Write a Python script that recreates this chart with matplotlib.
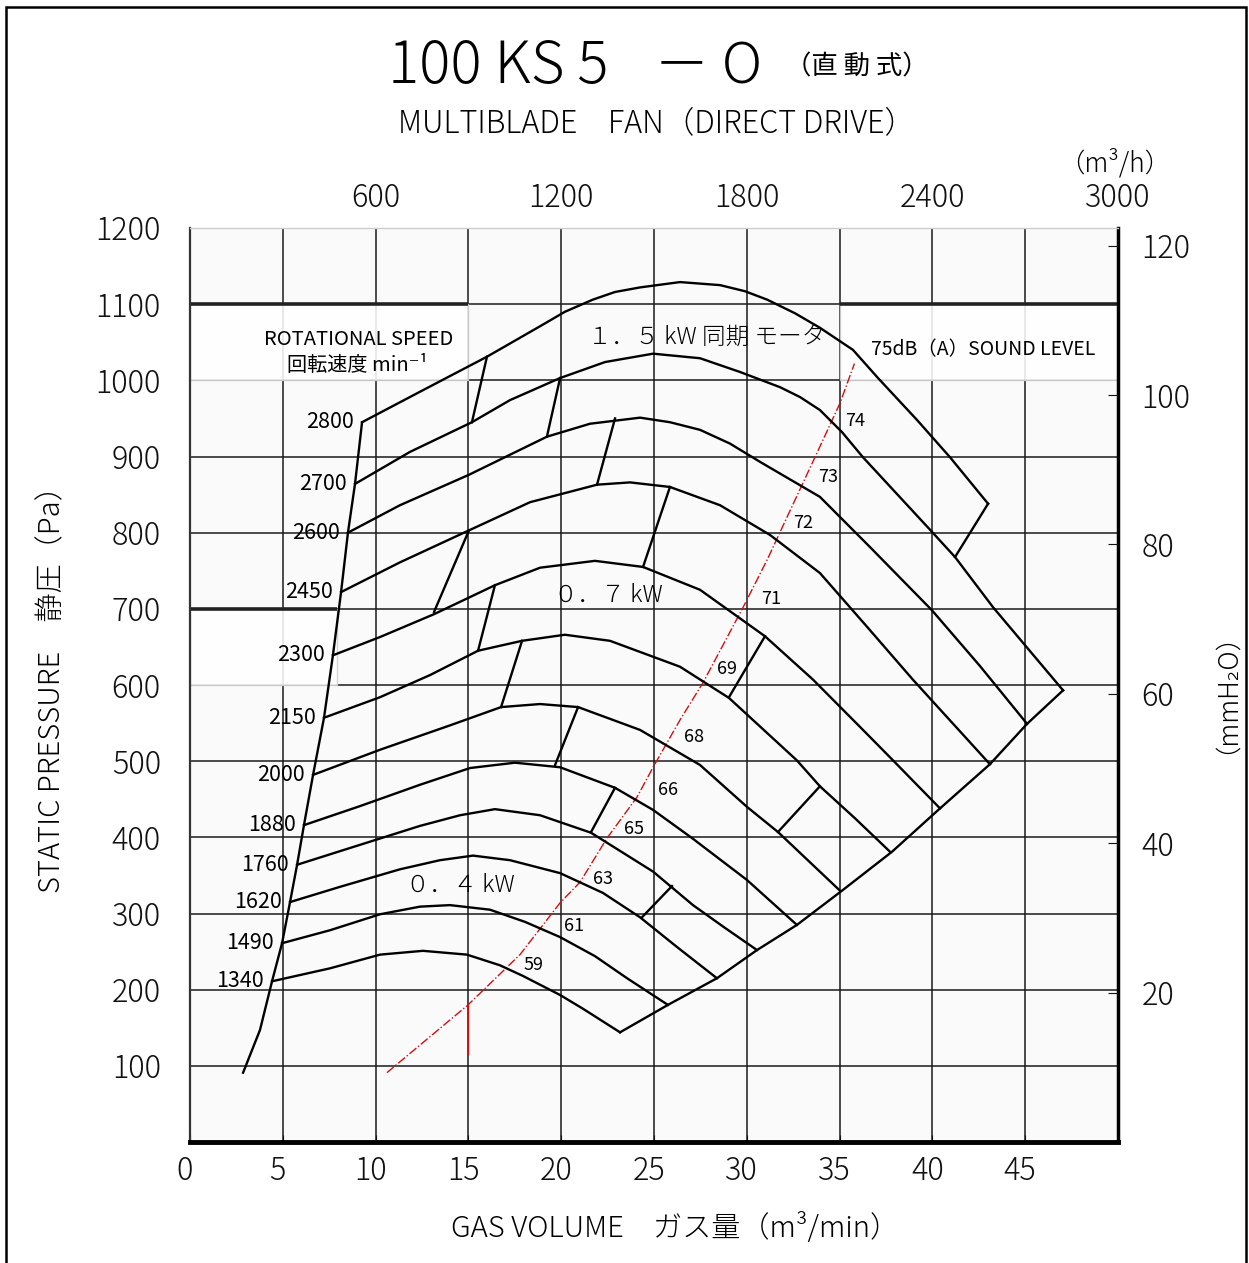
import matplotlib.pyplot as plt
from matplotlib.patches import Rectangle
from matplotlib.transforms import ScaledTranslation

plt.rcParams['font.family'] = ['Noto Sans CJK JP', 'DejaVu Sans']

# fan curves: gas volume (m3/min) vs static pressure (Pa)
speeds = [2800, 2700, 2600, 2450, 2300, 2150, 2000, 1880, 1760, 1620, 1490, 1340]

q_2800 = [9.27, 12.39, 16.00, 18.86, 20.20, 21.71, 22.90, 24.25, 26.40, 28.56, 29.90, 31.09, 32.60, 33.94, 35.72, 37.07, 39.17, 40.95, 43.00]
p_2800 = [945, 985, 1031, 1071, 1090, 1106, 1116, 1122, 1129, 1125, 1117, 1106, 1088, 1069, 1040, 1003, 948, 899, 838]
q_2700 = [8.89, 11.85, 15.19, 17.24, 19.94, 22.36, 24.95, 27.48, 29.63, 31.79, 32.87, 33.94, 35.13, 36.26, 39.98, 41.22, 43.27, 47.04]
p_2700 = [864, 906, 945, 974, 1003, 1024, 1035, 1029, 1011, 991, 978, 961, 932, 899, 801, 768, 702, 593]
q_2600 = [8.51, 11.31, 15.03, 19.23, 21.55, 24.25, 25.86, 27.48, 29.09, 30.71, 33.94, 36.64, 39.98, 42.56, 45.10]
p_2600 = [800, 836, 876, 926, 943, 951, 945, 935, 917, 893, 847, 781, 698, 625, 549]
q_2450 = [8.14, 11.31, 15.03, 18.32, 21.93, 23.71, 25.86, 28.56, 31.25, 33.94, 36.53, 38.95, 43.10]
p_2450 = [722, 761, 803, 840, 863, 866, 860, 836, 797, 747, 675, 607, 496]
q_2300 = [7.70, 10.24, 13.15, 16.43, 18.86, 21.82, 24.41, 27.48, 30.98, 33.57, 36.10, 37.88, 40.41]
p_2300 = [639, 663, 693, 731, 754, 763, 755, 725, 664, 607, 545, 501, 438]
q_2150 = [7.22, 10.24, 12.93, 15.52, 17.89, 20.20, 22.63, 26.40, 29.04, 32.70, 33.94, 35.83, 37.72]
p_2150 = [557, 584, 613, 645, 658, 666, 658, 624, 583, 501, 467, 425, 381]
q_2000 = [6.63, 10.24, 14.01, 16.76, 18.86, 20.91, 24.25, 27.48, 30.01, 31.68, 35.02]
p_2000 = [482, 515, 547, 571, 575, 571, 541, 495, 440, 407, 330]
q_1880 = [6.14, 9.16, 12.39, 15.09, 17.51, 19.94, 22.90, 24.95, 27.05, 30.01, 32.70]
p_1880 = [416, 441, 469, 491, 498, 492, 465, 436, 399, 344, 285]
q_1760 = [5.77, 8.62, 12.39, 14.55, 16.43, 18.86, 21.61, 24.95, 27.10, 28.83, 30.55]
p_1760 = [364, 386, 415, 429, 437, 429, 406, 355, 311, 281, 252]
q_1620 = [5.39, 8.08, 11.31, 13.47, 15.25, 17.24, 19.94, 22.25, 24.25, 26.24, 28.39]
p_1620 = [315, 335, 358, 370, 376, 370, 353, 327, 295, 256, 215]
q_1490 = [4.96, 7.54, 10.24, 12.39, 14.01, 16.16, 18.05, 19.94, 21.82, 23.55, 25.75]
p_1490 = [261, 278, 299, 309, 311, 305, 289, 269, 244, 215, 180]
q_1340 = [4.42, 7.54, 10.24, 12.55, 14.92, 16.70, 17.94, 19.94, 21.17, 23.17]
p_1340 = [211, 228, 246, 251, 246, 232, 218, 193, 175, 144]

# surge limit (left) and maximum flow limit (lower right)
q_surge = [9.27, 8.89, 8.51, 8.14, 7.70, 7.22, 6.63, 6.14, 5.77, 5.39, 4.96, 4.42, 3.77, 2.86]
p_surge = [945, 864, 800, 722, 639, 557, 482, 416, 364, 315, 261, 211, 147, 91]
q_limit = [23.17, 25.75, 28.39, 30.55, 32.70, 35.13, 37.82, 40.41, 43.10, 45.10, 47.04]
p_limit = [144, 180, 215, 252, 285, 330, 381, 438, 496, 549, 593]

# motor output boundaries, as (q0, p0, q1, p1)
motor_steps = [
    (16.00, 1031, 15.19, 945), (19.94, 1003, 19.23, 926), (22.90, 950, 21.93, 863),
    (25.86, 860, 24.41, 755), (30.98, 664, 29.04, 584), (33.94, 467, 31.68, 407),
    (43.00, 838, 41.22, 768),
    (15.03, 803, 13.15, 696), (16.43, 731, 15.52, 645), (17.89, 658, 16.76, 571),
    (20.91, 571, 19.67, 495), (22.90, 465, 21.61, 407), (25.97, 336, 24.35, 295),
]

# sound level line, dB(A)
q_sound = [10.61, 14.98, 17.78, 19.94, 21.01, 22.47, 24.09, 24.95, 26.40, 27.64, 29.80, 31.09, 32.60, 33.94, 35.02, 35.80]
p_sound = [91, 180, 246, 314, 341, 399, 453, 492, 554, 603, 702, 764, 843, 913, 970, 1022]
sound_db = [59, 61, 63, 65, 66, 68, 69, 71, 72, 73, 74]
sound_lbl_q = [18.53, 20.69, 22.25, 23.92, 25.75, 27.16, 28.93, 31.30, 33.03, 34.37, 35.83]
sound_lbl_p = [232, 284, 345, 411, 462, 532, 621, 713, 813, 873, 947]

x_ticks = [0, 5, 10, 15, 20, 25, 30, 35, 40, 45, 50]
y_ticks = [0, 100, 200, 300, 400, 500, 600, 700, 800, 900, 1000, 1100, 1200]
top_ticks = [600, 1200, 1800, 2400, 3000]
right_ticks = [20, 40, 60, 80, 100, 120]
PA_PER_MMH2O = 9.80665

curves = [(q_2800, p_2800), (q_2700, p_2700), (q_2600, p_2600), (q_2450, p_2450),
          (q_2300, p_2300), (q_2150, p_2150), (q_2000, p_2000), (q_1880, p_1880),
          (q_1760, p_1760), (q_1620, p_1620), (q_1490, p_1490), (q_1340, p_1340)]

W, H = 1249, 1263
fig = plt.figure(figsize=(W / 100, H / 100), dpi=100)
ax = fig.add_axes([190 / W, 1 - 1142 / H, 928 / W, 914 / H])
ax.set_xlim(0, 50)
ax.set_ylim(0, 1200)
ax.set_facecolor('#fafafa')
ax.set_axisbelow(True)
ax.grid(True, color='#1a1a1a', lw=1.1)

ax.set_xticks(x_ticks)
ax.set_xticklabels([str(v) for v in x_ticks[:-1]] + [''], fontweight='light')
ax.set_yticks(y_ticks)
ax.set_yticklabels([''] + [str(v) for v in y_ticks[1:]], fontweight='light')
ax.tick_params(axis='x', direction='in', length=5, pad=9, labelsize=22, colors='#111')
ax.tick_params(axis='y', length=0, pad=21, labelsize=22, colors='#111')
# bottom numbers sit a little left of their grid lines
shift = ScaledTranslation(-5 / 100, 0, fig.dpi_scale_trans)
for lab in ax.get_xticklabels():
    lab.set_transform(lab.get_transform() + shift)
ax.spines['bottom'].set_linewidth(3.5)
ax.spines['left'].set_linewidth(1.6)
ax.spines['left'].set_color('#333')
ax.spines['right'].set_linewidth(2.5)
ax.spines['top'].set_linewidth(1)
ax.spines['top'].set_color('#cccccc')

# white label boxes over the grid
for x0, y0, w, h in [(0, 1000, 15, 100), (35, 1000, 15, 100), (0, 600, 7.9, 100)]:
    ax.add_patch(Rectangle((x0, y0), w, h, facecolor='white', edgecolor='#cfcfcf', lw=1, alpha=0.88, zorder=1))
    ax.plot([x0, x0 + w], [y0 + h, y0 + h], color='#222', lw=2.6, zorder=1.5, solid_capstyle='butt')

for q, p in curves:
    ax.plot(q, p, color='black', lw=1.7, zorder=3, solid_joinstyle='round')
ax.plot(q_surge, p_surge, color='black', lw=1.7, zorder=3)
ax.plot(q_limit, p_limit, color='black', lw=1.7, zorder=3)
for q0, p0, q1, p1 in motor_steps:
    ax.plot([q0, q1], [p0, p1], color='black', lw=1.7, zorder=3)

ax.plot(q_sound, p_sound, color='#d01010', lw=1, ls='-.', zorder=2.5)
ax.plot([15, 15], [115, 180], color='#d01010', lw=1, zorder=2.5)
for db, q, p in zip(sound_db, sound_lbl_q, sound_lbl_p):
    ax.text(q, p, str(db), fontsize=13, ha='center', va='center', zorder=4)

for n, (q, p) in zip(speeds, curves):
    ax.annotate(str(n), (q[0], p[0]), xytext=(-6, 0), textcoords='offset points',
                fontsize=15.5, ha='right', va='center', zorder=4)

ax.text(9.1, 1053, 'ROTATIONAL SPEED', fontsize=14.5, ha='center', va='center', zorder=4)
ax.text(9.0, 1019, '回転速度 min⁻¹', fontsize=14.5, ha='center', va='center', zorder=4)
ax.text(27.86, 1057, '１．５ kW 同期 モータ', fontsize=17, fontweight='light', ha='center', va='center', zorder=4)
ax.text(22.52, 718, '０．７ kW', fontsize=17, fontweight='light', ha='center', va='center', zorder=4)
ax.text(14.55, 337, '０．４ kW', fontsize=17, fontweight='light', ha='center', va='center', zorder=4)
ax.text(42.73, 1040, '75dB（A）SOUND LEVEL', fontsize=14, ha='center', va='center', zorder=4)

# right axis in mmH2O
axr = ax.twinx()
axr.set_ylim(0, 1200 / PA_PER_MMH2O)
axr.set_yticks(right_ticks)
axr.set_yticklabels([str(v) for v in right_ticks], fontweight='light')
axr.tick_params(axis='y', direction='in', length=7, pad=17, labelsize=22, colors='#111')
for s in axr.spines.values():
    s.set_visible(False)

# top axis in m3/h
axt = ax.twiny()
axt.set_xlim(0, 3000)
axt.set_xticks(top_ticks)
axt.set_xticklabels([str(v) for v in top_ticks], fontweight='light')
axt.tick_params(axis='x', length=0, pad=10, labelsize=22, colors='#111')
for s in axt.spines.values():
    s.set_visible(False)

fig.text(498 / W, 1 - 67 / H, '100 KS 5', fontsize=42, fontweight='light', ha='center', va='center')
fig.text(708 / W, 1 - 67 / H, '－ O', fontsize=40, fontweight='light', ha='center', va='center')
fig.text(857 / W, 1 - 67 / H, '（直 動 式）', fontsize=19, ha='center', va='center')
fig.text(657 / W, 1 - 123 / H, 'MULTIBLADE　FAN（DIRECT DRIVE）', fontsize=22, fontweight='light', ha='center', va='center')
fig.text(1115 / W, 1 - 163 / H, '（m³/h）', fontsize=19, fontweight='light', ha='center', va='center')
fig.text(675 / W, 1 - 1228 / H, 'GAS VOLUME　ガス量（m³/min）', fontsize=21, fontweight='light', ha='center', va='center')
fig.text(52 / W, 1 - 682 / H, 'STATIC PRESSURE　静圧（Pa）', fontsize=21, fontweight='light', rotation=90, ha='center', va='center')
fig.text(1212 / W, 1 - 680 / H, '（mmH₂O）', fontsize=19, fontweight='light', rotation=90, ha='center', va='center')

fig.add_artist(Rectangle((6 / W, -0.01), 1240 / W, 1.01 - 7 / H, transform=fig.transFigure,
                         fill=False, lw=1.8, edgecolor='black'))

fig.savefig('out.png', dpi=100)
